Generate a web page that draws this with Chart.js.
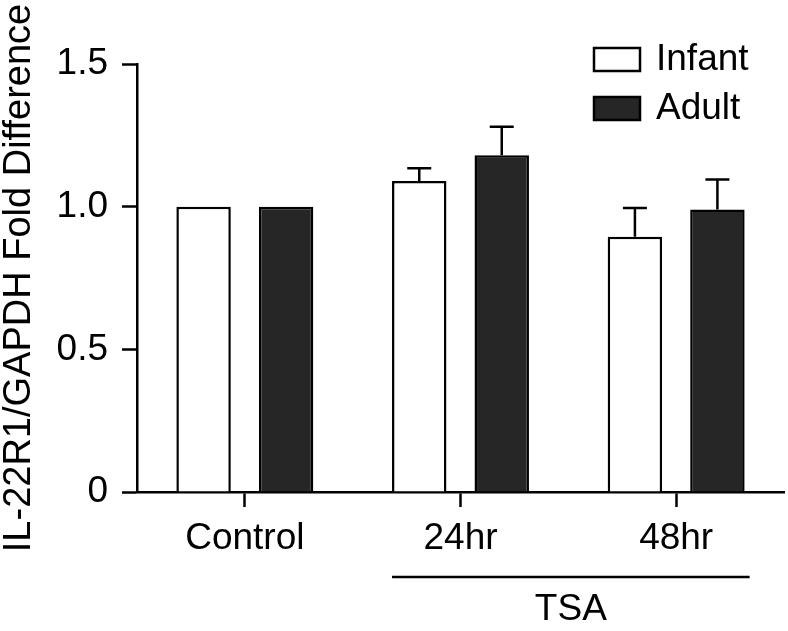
<!DOCTYPE html>
<html>
<head>
<meta charset="utf-8">
<script src="https://cdn.jsdelivr.net/npm/chart.js@4.4.0/dist/chart.umd.min.js"></script>
<style>
  html, body { margin: 0; padding: 0; background: #fff; }
  #wrap { width: 788px; height: 631px; }
</style>
</head>
<body>
<div id="wrap"><canvas id="il22Chart" width="788" height="631"></canvas></div>
<script>
const categories = ['Control', '24hr', '48hr']
const seriesNames = ['Infant', 'Adult']
const infantValues = [1.0, 1.09, 0.895]
const adultValues = [1.0, 1.18, 0.99]
const infantErrors = [0, 0.045, 0.10]
const adultErrors = [0, 0.10, 0.105]
const yTickLabels = ['0', '0.5', '1.0', '1.5']
const groupLabel = 'TSA'

const BLACK = '#000000'
const DARK = '#262626'
const FONT = "'Liberation Sans', Arial, Helvetica, sans-serif"

Chart.defaults.font.family = FONT
Chart.defaults.font.size = 37
Chart.defaults.color = BLACK

// upper error bars with a cap
const errorBars = {
    id: 'errorBars',
    afterDatasetsDraw(chart) {
        const { ctx, scales: { y } } = chart
        ctx.save()
        ctx.strokeStyle = BLACK
        ctx.lineWidth = 2.5
        chart.data.datasets.forEach((ds, i) => {
            const meta = chart.getDatasetMeta(i)
            meta.data.forEach((bar, j) => {
                const err = ds.errors[j]
                if (!err) return
                const top = y.getPixelForValue(ds.data[j] + err)
                ctx.beginPath()
                ctx.moveTo(bar.x, bar.y)
                ctx.lineTo(bar.x, top)
                ctx.moveTo(bar.x - 12, top)
                ctx.lineTo(bar.x + 12, top)
                ctx.stroke()
            })
        })
        ctx.restore()
    }
}

// legend in the top right corner
const boxLegend = {
    id: 'boxLegend',
    afterDraw(chart) {
        const { ctx } = chart
        ctx.save()
        ctx.font = `37px ${FONT}`
        ctx.textBaseline = 'middle'
        ctx.textAlign = 'left'
        chart.data.datasets.forEach((ds, i) => {
            const top = 48 + i * 49
            ctx.fillStyle = ds.backgroundColor
            ctx.fillRect(594, top, 46, 23)
            ctx.strokeStyle = BLACK
            ctx.lineWidth = 2.5
            ctx.strokeRect(594, top, 46, 23)
            ctx.fillStyle = BLACK
            ctx.fillText(ds.label, 656, top + 12)
        })
        ctx.restore()
    }
}

// bracket line under the treated groups
const groupBracket = {
    id: 'groupBracket',
    afterDraw(chart) {
        const { ctx } = chart
        const first = chart.getDatasetMeta(0).data[1]
        const last = chart.getDatasetMeta(1).data[2]
        const x1 = first.x - first.width / 2
        const x2 = last.x + last.width / 2 + 5
        ctx.save()
        ctx.strokeStyle = BLACK
        ctx.lineWidth = 2.5
        ctx.beginPath()
        ctx.moveTo(x1, 577)
        ctx.lineTo(x2, 577)
        ctx.stroke()
        ctx.fillStyle = BLACK
        ctx.font = `37px ${FONT}`
        ctx.textAlign = 'center'
        ctx.textBaseline = 'middle'
        ctx.fillText(groupLabel, (x1 + x2) / 2, 610)
        ctx.restore()
    }
}

const context = document.getElementById('il22Chart')
const data = {
    labels: categories,
    datasets: [
        {
            label: seriesNames[0],
            data: infantValues,
            errors: infantErrors,
            backgroundColor: '#ffffff',
            borderColor: BLACK,
            borderWidth: 2.5
        },
        {
            label: seriesNames[1],
            data: adultValues,
            errors: adultErrors,
            backgroundColor: DARK,
            borderColor: BLACK,
            borderWidth: 2.5
        }
    ]
}
const config = {
    type: 'bar',
    data: data,
    options: {
        responsive: false,
        animation: false,
        categoryPercentage: 0.765,
        barPercentage: 0.66,
        layout: {
            padding: { top: 64, right: 4, bottom: 69, left: 0 }
        },
        plugins: {
            legend: { display: false },
            tooltip: { enabled: false }
        },
        scales: {
            x: {
                z: 1,
                border: { display: true, color: BLACK, width: 2.5 },
                grid: {
                    offset: false,
                    drawOnChartArea: false,
                    drawTicks: true,
                    tickLength: 15,
                    tickWidth: 2.5,
                    tickColor: BLACK
                },
                ticks: { padding: 10, color: BLACK, font: { size: 37 } },
                afterFit: scale => { scale.height = 70 }
            },
            y: {
                min: 0,
                max: 1.5,
                border: { display: true, color: BLACK, width: 2.5 },
                grid: {
                    drawOnChartArea: false,
                    tickLength: 15,
                    tickWidth: 2.5,
                    tickColor: BLACK
                },
                ticks: {
                    stepSize: 0.5,
                    padding: 14,
                    color: BLACK,
                    font: { size: 37 },
                    callback: (value, index) => yTickLabels[index]
                },
                title: {
                    display: true,
                    text: 'IL-22R1/GAPDH Fold Difference',
                    color: BLACK,
                    font: { size: 38, lineHeight: 1 },
                    padding: { top: 1, bottom: 0 }
                },
                afterFit: scale => { scale.width = 137 }
            }
        }
    },
    plugins: [errorBars, boxLegend, groupBracket]
}
new Chart(context, config)
</script>
</body>
</html>
